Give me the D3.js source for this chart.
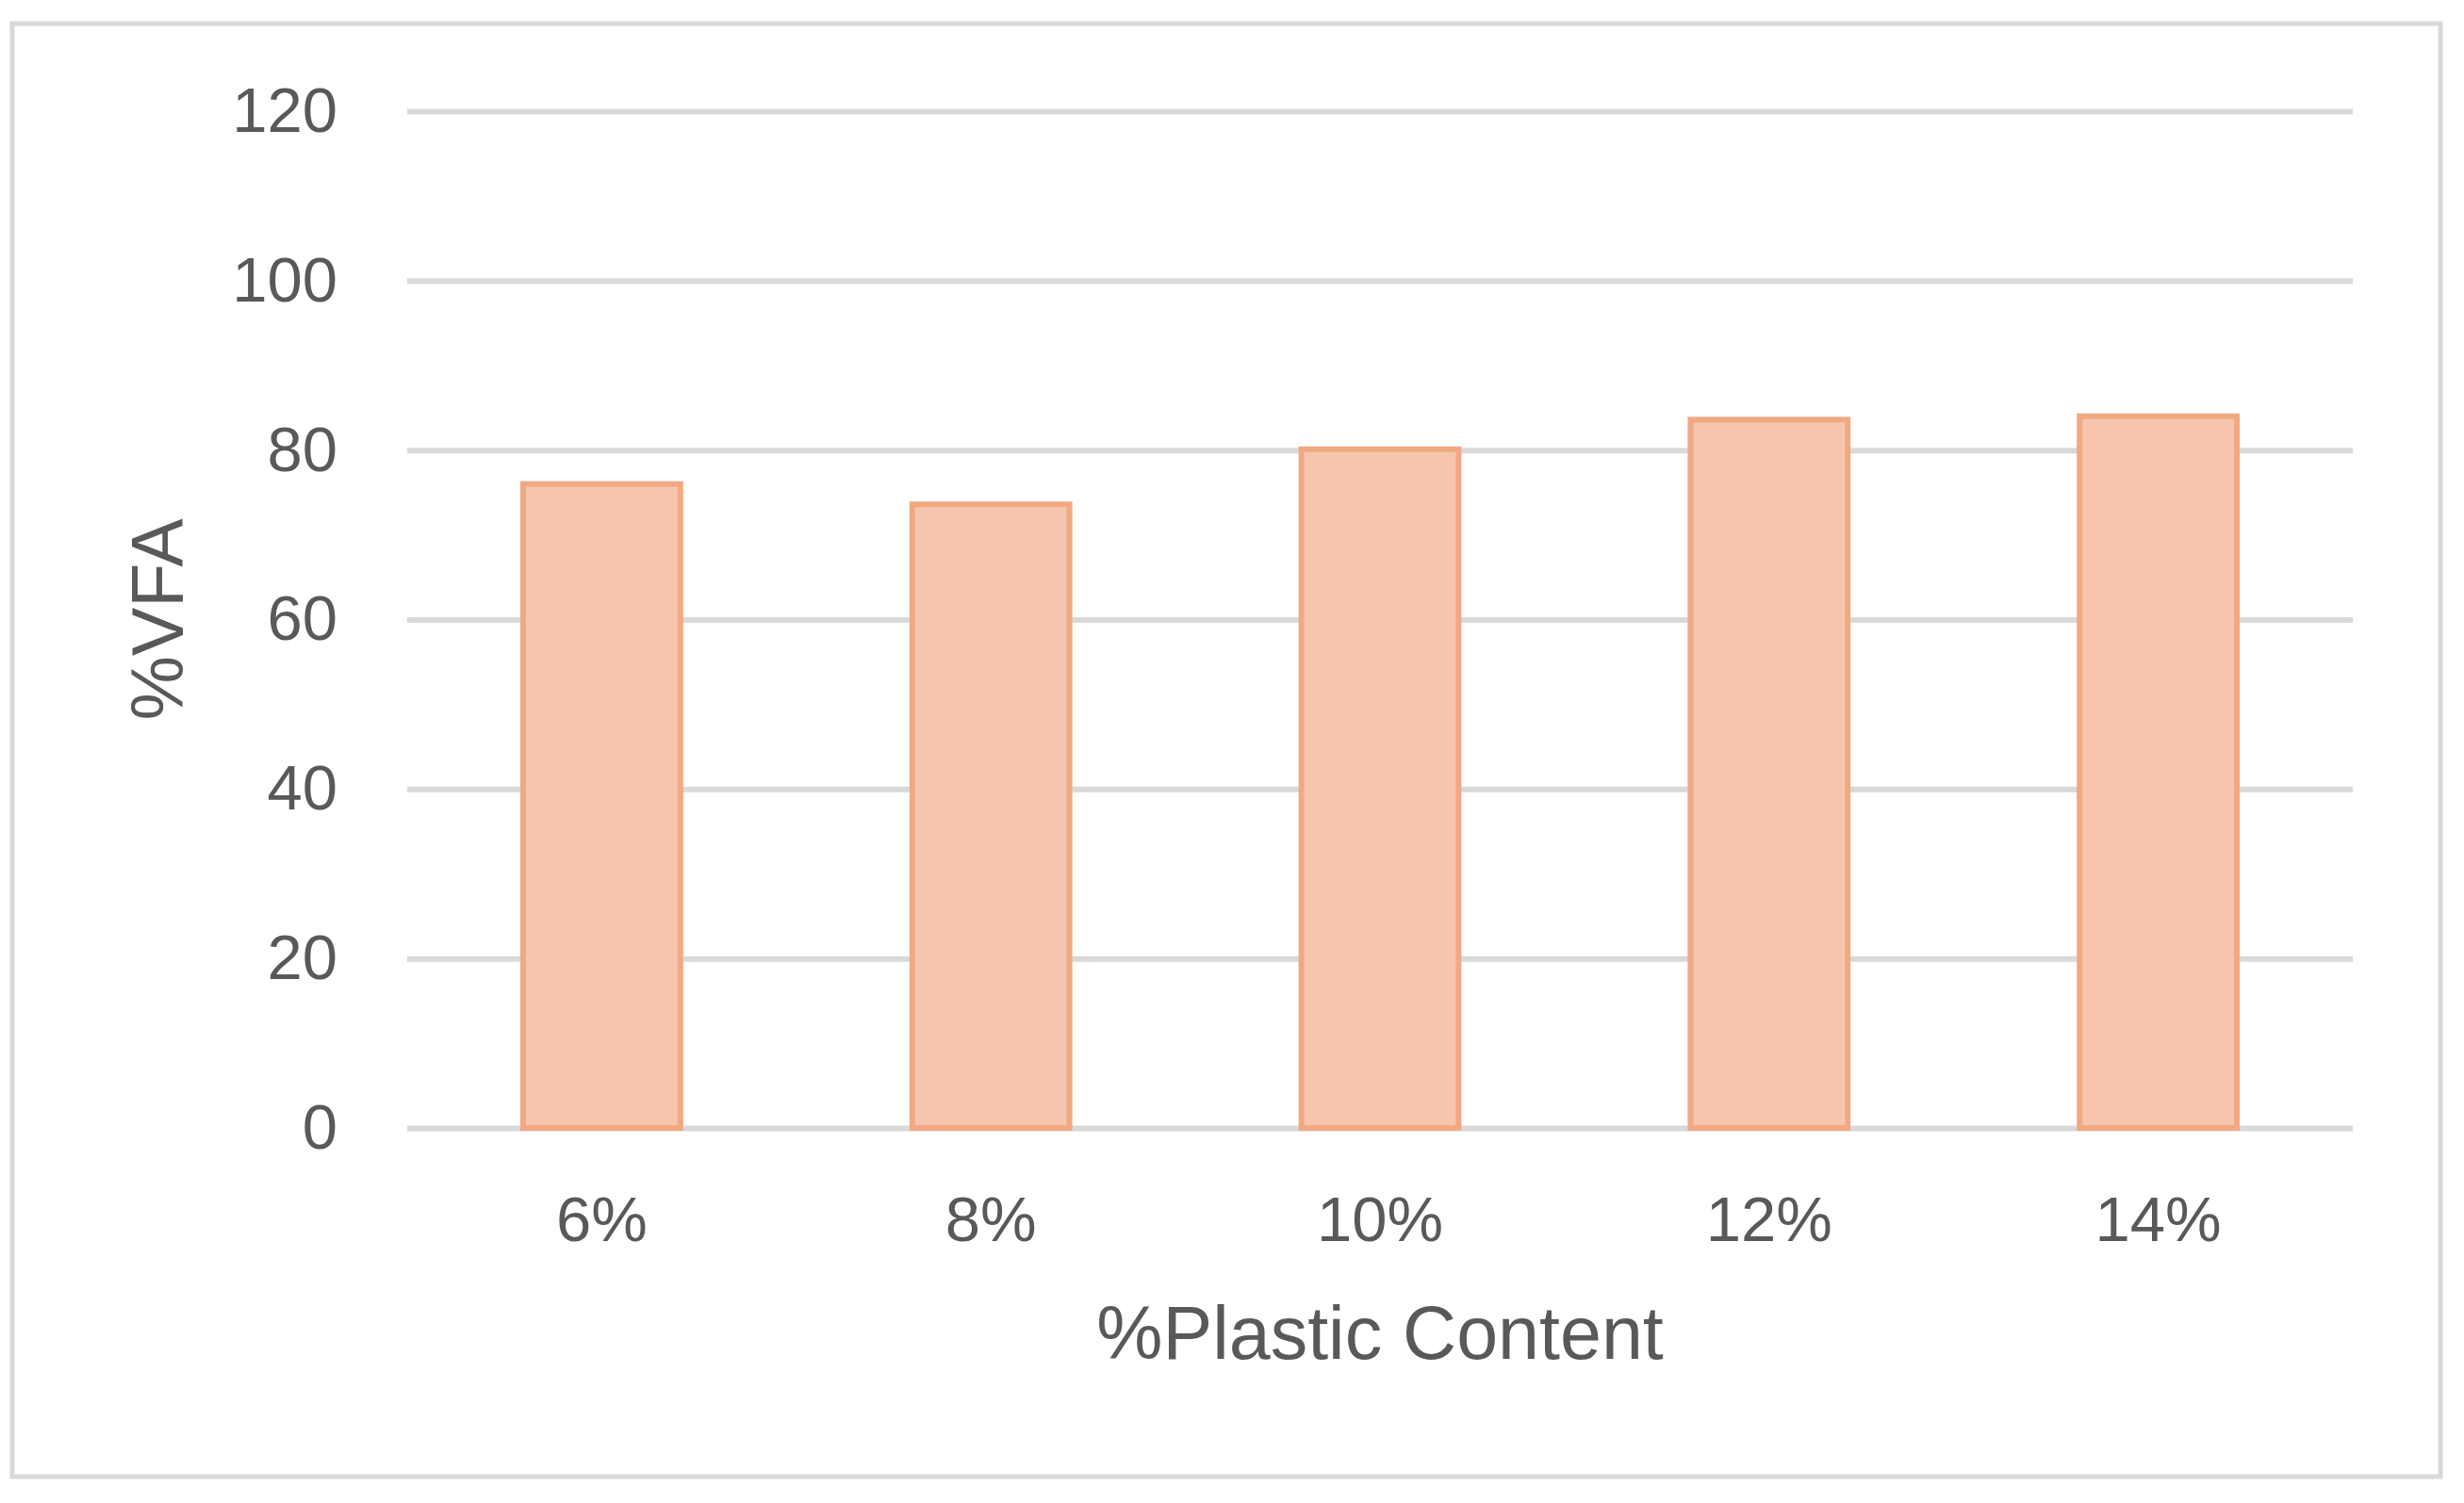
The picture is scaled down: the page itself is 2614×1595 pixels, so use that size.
<!DOCTYPE html>
<html>
<head>
<meta charset="utf-8">
<script src="https://cdn.jsdelivr.net/npm/d3@7"></script>
<style>
  html, body { margin: 0; padding: 0; background: #ffffff; }
  svg { display: block; }
</style>
</head>
<body>
<script>
const categories = ["6%", "8%", "10%", "12%", "14%"];
const vfaValues = [76.0, 73.6, 80.1, 83.6, 84.0];
const yTicks = [0, 20, 40, 60, 80, 100, 120];
const xTitle = "%Plastic Content";
const yTitle = "%VFA";

const W = 2614, H = 1595;
const plot = { left: 432, right: 2496, top: 118, bottom: 1197 };
const textColor = "#595959";
const gridColor = "#d9d9d9";
const font = "'Liberation Sans', Arial, sans-serif";

const svg = d3.select("body").append("svg")
  .attr("width", W).attr("height", H);

svg.append("rect")
  .attr("x", 13).attr("y", 25)
  .attr("width", 2589 - 13).attr("height", 1567 - 25)
  .attr("fill", "#ffffff")
  .attr("stroke", gridColor).attr("stroke-width", 5);

const x = d3.scaleBand()
  .domain(categories)
  .range([plot.left, plot.right])
  .paddingInner(0.596)
  .paddingOuter(0.298);

const y = d3.scaleLinear()
  .domain([0, 120])
  .range([plot.bottom, plot.top]);

// gridlines + y labels via axis
const yAxis = d3.axisLeft(y)
  .tickValues(yTicks)
  .tickSize(-(plot.right - plot.left))
  .tickPadding(74)
  .tickFormat(d3.format("d"));

const gy = svg.append("g")
  .attr("transform", `translate(${plot.left},0)`)
  .call(yAxis);
gy.select(".domain").remove();
gy.selectAll(".tick line").attr("stroke", gridColor).attr("stroke-width", 6);
gy.selectAll(".tick text")
  .attr("fill", textColor)
  .style("font-family", font)
  .style("font-size", "67px");

// bars
svg.append("g").selectAll("rect")
  .data(categories.map((c, i) => ({ c, v: vfaValues[i] })))
  .join("rect")
  .attr("x", d => x(d.c))
  .attr("y", d => y(d.v))
  .attr("width", x.bandwidth())
  .attr("height", d => y(0) - y(d.v))
  .attr("fill", "#f5c6ad")
  .attr("stroke", "#f1a983")
  .attr("stroke-width", 6);

// x axis labels
const xAxis = d3.axisBottom(x).tickSize(0).tickPadding(72);
const gx = svg.append("g")
  .attr("transform", `translate(0,${plot.bottom})`)
  .call(xAxis);
gx.select(".domain").remove();
gx.selectAll(".tick text")
  .attr("fill", textColor)
  .style("font-family", font)
  .style("font-size", "67px");

// axis titles
svg.append("text")
  .attr("x", (plot.left + plot.right) / 2)
  .attr("y", 1442)
  .attr("text-anchor", "middle")
  .attr("fill", textColor)
  .style("font-family", font)
  .style("font-size", "79px")
  .text(xTitle);

svg.append("text")
  .attr("transform", `translate(194,${(plot.top + plot.bottom) / 2}) rotate(-90)`)
  .attr("text-anchor", "middle")
  .attr("fill", textColor)
  .style("font-family", font)
  .style("font-size", "77px")
  .text(yTitle);
</script>
</body>
</html>
